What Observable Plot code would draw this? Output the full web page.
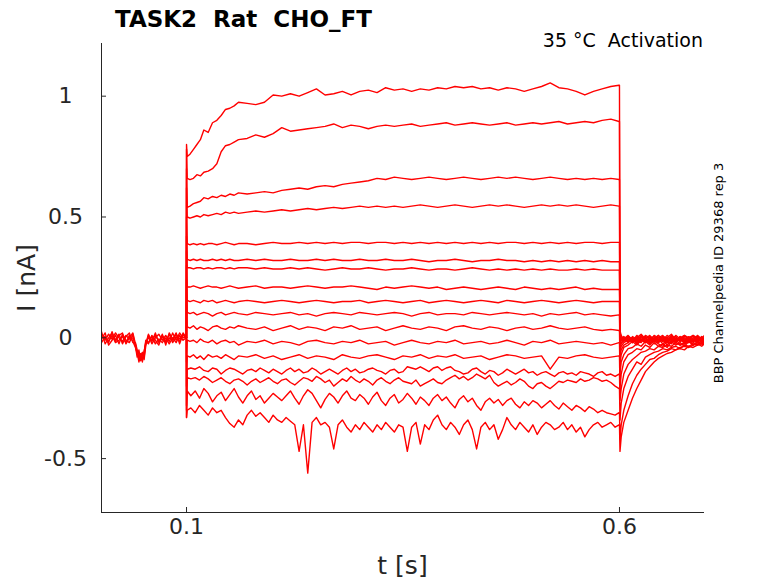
<!DOCTYPE html>
<html>
<head>
<meta charset="utf-8">
<script src="https://cdn.jsdelivr.net/npm/d3@7"></script>
<script src="https://cdn.jsdelivr.net/npm/@observablehq/plot@0.6"></script>
<style>
  html, body { margin: 0; padding: 0; background: #fff; }
  #wrap { position: relative; width: 778px; height: 583px; font-family: "DejaVu Sans", sans-serif; overflow: hidden; }
  #wrap .lbl { position: absolute; white-space: pre; }
  #title { left: 115px; top: 7.5px; font-size: 23px; line-height: 23px; font-weight: bold; color: #000; }
  #cond { right: 75px; top: 31.4px; font-size: 19px; line-height: 19px; color: #000; }
  #xlab { left: 402.5px; top: 553px; font-size: 25px; line-height: 25px; color: #262626; transform: translateX(-50%); }
  #ylab { left: 26.4px; top: 278px; font-size: 25px; line-height: 25px; color: #262626; transform: translate(-50%, -50%) rotate(-90deg); }
  #side { left: 717.5px; top: 272.5px; font-size: 13px; line-height: 13px; color: #000; transform: translate(-50%, -50%) rotate(-90deg); }
</style>
</head>
<body>
<div id="wrap">
  <div id="chart"></div>
  <div class="lbl" id="title">TASK2  Rat  CHO_FT</div>
  <div class="lbl" id="cond">35 °C  Activation</div>
  <div class="lbl" id="xlab">t [s]</div>
  <div class="lbl" id="ylab">I [nA]</div>
  <div class="lbl" id="side">BBP Channelpedia ID 29368 rep 3</div>
</div>
<script>
// ---------- axes ----------
const xDomain = [0.0018, 0.6982];
const yDomain = [-0.723, 1.218];
const xTicks = [0.1, 0.6];
const xTickLabels = ["0.1", "0.6"];
const yTicks = [-0.5, 0, 0.5, 1];
const yTickLabels = ["-0.5", "0", "0.5", "1"];

// ---------- time grids (s) ----------
const tPre = [0.0018, 0.006, 0.01, 0.014, 0.018, 0.022, 0.026, 0.03, 0.034, 0.038,
  0.041, 0.043, 0.045, 0.047, 0.049, 0.051, 0.053, 0.056, 0.06, 0.064,
  0.068, 0.072, 0.076, 0.08, 0.084, 0.088, 0.092, 0.096, 0.0999];
const tCoarse = [0.0999, 0.1, 0.1008, 0.104, 0.108, 0.112, 0.116, 0.12, 0.125, 0.13,
  0.135, 0.14, 0.145, 0.15, 0.155, 0.16, 0.17, 0.18, 0.19, 0.2,
  0.21, 0.22, 0.23, 0.24, 0.25, 0.26, 0.27, 0.28, 0.29, 0.3,
  0.31, 0.32, 0.33, 0.34, 0.35, 0.36, 0.37, 0.38, 0.39, 0.4,
  0.41, 0.42, 0.43, 0.44, 0.45, 0.46, 0.47, 0.48, 0.49, 0.5,
  0.51, 0.52, 0.53, 0.54, 0.55, 0.56, 0.57, 0.58, 0.59, 0.5995];
const tFine = [0.0999, 0.1, 0.1008, 0.105, 0.11, 0.115, 0.12, 0.125, 0.13, 0.135,
  0.14, 0.145, 0.15, 0.155, 0.16, 0.165, 0.17, 0.175, 0.18, 0.185,
  0.19, 0.195, 0.2, 0.205, 0.21, 0.215, 0.22, 0.225, 0.23, 0.235,
  0.24, 0.245, 0.25, 0.255, 0.26, 0.265, 0.27, 0.275, 0.28, 0.285,
  0.29, 0.295, 0.3, 0.305, 0.31, 0.315, 0.32, 0.325, 0.33, 0.335,
  0.34, 0.345, 0.35, 0.355, 0.36, 0.365, 0.37, 0.375, 0.38, 0.385,
  0.39, 0.395, 0.4, 0.405, 0.41, 0.415, 0.42, 0.425, 0.43, 0.435,
  0.44, 0.445, 0.45, 0.455, 0.46, 0.465, 0.47, 0.475, 0.48, 0.485,
  0.49, 0.495, 0.5, 0.505, 0.51, 0.515, 0.52, 0.525, 0.53, 0.535,
  0.54, 0.545, 0.55, 0.555, 0.56, 0.565, 0.57, 0.575, 0.58, 0.585,
  0.59, 0.595, 0.5995];
const tTail = [0.6, 0.6006, 0.602, 0.605, 0.61, 0.615, 0.62, 0.625, 0.63, 0.635,
  0.64, 0.645, 0.65, 0.655, 0.66, 0.665, 0.67, 0.675, 0.68, 0.685,
  0.69, 0.695, 0.6982];

// ---------- baseline before the step (nA) ----------
const pre1 = [0.01, -0.01, 0.015, -0.005, 0.02, 0.0, -0.015, 0.01, -0.005, 0.0,
  -0.03, -0.07, -0.06, -0.09, -0.07, -0.08, -0.02, 0.0, -0.01, 0.01,
  -0.015, 0.005, -0.02, 0.0, -0.01, 0.015, -0.005, 0.01, 0.0];
const pre2 = [-0.02, 0.005, -0.015, 0.01, -0.02, -0.01, 0.005, -0.02, 0.01, -0.015,
  -0.04, -0.06, -0.08, -0.065, -0.1, -0.06, -0.01, -0.02, 0.005, -0.025,
  -0.005, -0.02, 0.0, -0.025, 0.0, -0.02, 0.01, -0.01, 0.0];
const pre3 = [0.025, -0.025, 0.0, 0.02, -0.01, 0.015, -0.025, 0.005, 0.02, -0.02,
  -0.02, -0.05, -0.09, -0.075, -0.06, -0.09, -0.03, 0.01, -0.025, 0.0,
  0.015, -0.01, 0.01, -0.015, 0.02, -0.01, 0.02, 0.0, 0.0];
const pre4 = [-0.005, 0.02, -0.03, -0.01, 0.01, -0.025, 0.015, -0.01, -0.02, 0.015,
  -0.035, -0.08, -0.05, -0.095, -0.085, -0.07, -0.015, -0.025, 0.01, -0.01,
  -0.03, 0.01, -0.015, 0.015, -0.02, 0.005, -0.015, 0.02, 0.0];
const pre5 = [0.015, 0.0, -0.02, 0.025, -0.015, 0.01, 0.02, -0.025, 0.0, 0.02,
  -0.025, -0.06, -0.1, -0.07, -0.09, -0.055, -0.025, 0.015, -0.015, 0.02,
  -0.02, 0.015, -0.03, 0.02, -0.005, 0.02, -0.025, 0.015, 0.0];

// ---------- step currents, coarse grid (nA) ----------
const stepA = [0, 0.80, 0.75, 0.76, 0.78, 0.80, 0.82, 0.86, 0.85, 0.89,
  0.90, 0.92, 0.945, 0.95, 0.96, 0.975, 0.97, 0.965, 0.975, 1.005,
  1.0, 1.01, 1.0, 1.015, 1.03, 1.005, 1.01, 1.02, 1.005, 1.02,
  1.025, 1.015, 1.035, 1.025, 1.03, 1.02, 1.03, 1.025, 1.035, 1.03,
  1.04, 1.035, 1.04, 1.03, 1.035, 1.025, 1.035, 1.03, 1.02, 1.03,
  1.04, 1.055, 1.035, 1.03, 1.02, 1.005, 1.02, 1.03, 1.04, 1.045];
const stepB = [0, 0.78, 0.66, 0.655, 0.66, 0.675, 0.67, 0.685, 0.69, 0.70,
  0.72, 0.77, 0.795, 0.80, 0.81, 0.82, 0.825, 0.84, 0.83, 0.845,
  0.87, 0.855, 0.86, 0.865, 0.87, 0.875, 0.885, 0.87, 0.88, 0.875,
  0.865, 0.875, 0.88, 0.875, 0.88, 0.885, 0.875, 0.88, 0.885, 0.89,
  0.88, 0.885, 0.89, 0.885, 0.88, 0.885, 0.89, 0.88, 0.885, 0.89,
  0.885, 0.89, 0.895, 0.885, 0.89, 0.895, 0.89, 0.90, 0.905, 0.895];
const stepC = [0, 0.70, 0.54, 0.545, 0.555, 0.56, 0.565, 0.58, 0.575, 0.585,
  0.58, 0.59, 0.585, 0.595, 0.59, 0.60, 0.595, 0.60, 0.605, 0.60,
  0.61, 0.615, 0.62, 0.615, 0.625, 0.63, 0.625, 0.635, 0.64, 0.645,
  0.65, 0.66, 0.655, 0.665, 0.66, 0.655, 0.66, 0.665, 0.66, 0.655,
  0.66, 0.665, 0.66, 0.655, 0.66, 0.665, 0.66, 0.665, 0.66, 0.655,
  0.66, 0.665, 0.66, 0.655, 0.66, 0.655, 0.66, 0.655, 0.66, 0.655];
const stepD = [0, 0.62, 0.50, 0.495, 0.50, 0.505, 0.50, 0.51, 0.505, 0.51,
  0.515, 0.51, 0.52, 0.515, 0.52, 0.515, 0.52, 0.525, 0.52, 0.525,
  0.53, 0.525, 0.53, 0.535, 0.53, 0.535, 0.54, 0.535, 0.54, 0.545,
  0.54, 0.545, 0.54, 0.545, 0.54, 0.545, 0.55, 0.545, 0.54, 0.545,
  0.55, 0.545, 0.54, 0.545, 0.55, 0.545, 0.55, 0.545, 0.54, 0.545,
  0.55, 0.545, 0.55, 0.545, 0.55, 0.545, 0.54, 0.545, 0.55, 0.545];
const stepE = [0, 0.50, 0.39, 0.385, 0.39, 0.385, 0.39, 0.385, 0.39, 0.39,
  0.385, 0.39, 0.395, 0.39, 0.385, 0.39, 0.39, 0.385, 0.39, 0.395,
  0.39, 0.39, 0.395, 0.39, 0.395, 0.39, 0.395, 0.39, 0.395, 0.395,
  0.39, 0.395, 0.395, 0.39, 0.395, 0.39, 0.395, 0.39, 0.395, 0.39,
  0.395, 0.39, 0.395, 0.39, 0.395, 0.39, 0.395, 0.395, 0.39, 0.395,
  0.39, 0.395, 0.39, 0.395, 0.39, 0.395, 0.395, 0.39, 0.395, 0.395];
const stepF = [0, 0.42, 0.325, 0.32, 0.325, 0.32, 0.325, 0.32, 0.32, 0.325,
  0.32, 0.325, 0.32, 0.325, 0.32, 0.32, 0.325, 0.32, 0.325, 0.32,
  0.32, 0.325, 0.32, 0.32, 0.325, 0.32, 0.325, 0.32, 0.32, 0.325,
  0.32, 0.32, 0.325, 0.32, 0.32, 0.325, 0.32, 0.315, 0.32, 0.32,
  0.325, 0.32, 0.315, 0.32, 0.32, 0.325, 0.32, 0.32, 0.315, 0.32,
  0.315, 0.32, 0.315, 0.32, 0.315, 0.32, 0.315, 0.32, 0.315, 0.315];
const stepG = [0, 0.36, 0.29, 0.29, 0.285, 0.29, 0.29, 0.285, 0.29, 0.285,
  0.29, 0.29, 0.285, 0.29, 0.285, 0.29, 0.29, 0.285, 0.29, 0.285,
  0.285, 0.29, 0.285, 0.29, 0.285, 0.28, 0.285, 0.29, 0.285, 0.285,
  0.29, 0.285, 0.28, 0.285, 0.285, 0.29, 0.285, 0.28, 0.285, 0.285,
  0.28, 0.285, 0.29, 0.285, 0.28, 0.285, 0.28, 0.285, 0.28, 0.285,
  0.28, 0.285, 0.28, 0.28, 0.285, 0.28, 0.285, 0.28, 0.28, 0.28];
const stepH = [0, 0.30, 0.21, 0.21, 0.215, 0.21, 0.205, 0.21, 0.215, 0.21,
  0.21, 0.205, 0.21, 0.215, 0.21, 0.205, 0.21, 0.215, 0.205, 0.21,
  0.21, 0.205, 0.21, 0.215, 0.21, 0.205, 0.21, 0.21, 0.215, 0.21,
  0.205, 0.20, 0.21, 0.205, 0.21, 0.215, 0.21, 0.205, 0.21, 0.20,
  0.205, 0.21, 0.205, 0.20, 0.205, 0.21, 0.205, 0.20, 0.21, 0.205,
  0.20, 0.205, 0.20, 0.205, 0.21, 0.20, 0.205, 0.20, 0.20, 0.20];
const stepI = [0, 0.24, 0.155, 0.15, 0.155, 0.15, 0.145, 0.155, 0.15, 0.155,
  0.145, 0.15, 0.155, 0.15, 0.145, 0.15, 0.155, 0.15, 0.145, 0.15,
  0.155, 0.15, 0.145, 0.15, 0.155, 0.15, 0.145, 0.15, 0.15, 0.155,
  0.145, 0.15, 0.155, 0.15, 0.145, 0.15, 0.155, 0.145, 0.15, 0.155,
  0.15, 0.145, 0.15, 0.155, 0.15, 0.145, 0.155, 0.15, 0.145, 0.15,
  0.155, 0.15, 0.145, 0.15, 0.155, 0.15, 0.145, 0.15, 0.15, 0.15];
const stepJ = [0, 0.20, 0.105, 0.10, 0.105, 0.095, 0.10, 0.105, 0.10, 0.09,
  0.10, 0.105, 0.095, 0.10, 0.105, 0.10, 0.095, 0.105, 0.10, 0.095,
  0.10, 0.105, 0.095, 0.10, 0.09, 0.10, 0.105, 0.10, 0.095, 0.105,
  0.10, 0.095, 0.10, 0.105, 0.10, 0.09, 0.10, 0.105, 0.095, 0.10,
  0.10, 0.095, 0.105, 0.10, 0.095, 0.10, 0.105, 0.10, 0.095, 0.10,
  0.09, 0.10, 0.095, 0.10, 0.105, 0.095, 0.10, 0.095, 0.09, 0.095];
const stepK = [0, 0.15, 0.045, 0.04, 0.05, 0.035, 0.045, 0.04, 0.03, 0.045,
  0.05, 0.04, 0.035, 0.045, 0.04, 0.05, 0.04, 0.035, 0.045, 0.03,
  0.04, 0.05, 0.035, 0.045, 0.04, 0.03, 0.045, 0.04, 0.05, 0.035,
  0.04, 0.045, 0.03, 0.04, 0.05, 0.04, 0.035, 0.045, 0.04, 0.03,
  0.045, 0.05, 0.04, 0.035, 0.045, 0.04, 0.03, 0.04, 0.045, 0.035,
  0.04, 0.05, 0.04, 0.035, 0.04, 0.045, 0.035, 0.03, 0.035, 0.03];
const stepL = [0, -0.10, -0.01, -0.015, -0.01, -0.02, -0.005, -0.015, -0.02, -0.01,
  -0.025, -0.015, -0.01, -0.02, -0.015, -0.03, -0.015, -0.02, -0.01, -0.025,
  -0.015, -0.02, -0.03, -0.015, -0.01, -0.02, -0.025, -0.015, -0.02, -0.01,
  -0.025, -0.02, -0.015, -0.03, -0.02, -0.01, -0.02, -0.025, -0.015, -0.02,
  -0.01, -0.025, -0.02, -0.015, -0.025, -0.02, -0.01, -0.02, -0.03, -0.015,
  -0.02, -0.01, -0.025, -0.02, -0.015, -0.02, -0.025, -0.02, -0.03, -0.02];
const stepM = [0, -0.20, -0.075, -0.08, -0.07, -0.085, -0.075, -0.09, -0.07, -0.08,
  -0.075, -0.085, -0.07, -0.08, -0.09, -0.075, -0.08, -0.07, -0.085, -0.075,
  -0.09, -0.08, -0.07, -0.085, -0.075, -0.08, -0.09, -0.07, -0.08, -0.085,
  -0.075, -0.07, -0.08, -0.09, -0.075, -0.08, -0.07, -0.085, -0.075, -0.08,
  -0.07, -0.085, -0.08, -0.075, -0.09, -0.08, -0.07, -0.075, -0.085, -0.08,
  -0.075, -0.13, -0.08, -0.085, -0.075, -0.07, -0.08, -0.085, -0.08, -0.075];

// ---------- step currents, fine grid (nA) ----------
const stepN = [0, -0.28, -0.13, -0.125, -0.13, -0.12, -0.135, -0.14, -0.125, -0.13,
  -0.15, -0.135, -0.125, -0.13, -0.14, -0.15, -0.135, -0.13, -0.14, -0.125,
  -0.135, -0.145, -0.13, -0.14, -0.15, -0.135, -0.125, -0.14, -0.13, -0.145,
  -0.14, -0.125, -0.135, -0.15, -0.14, -0.13, -0.14, -0.15, -0.135, -0.125,
  -0.14, -0.13, -0.145, -0.14, -0.13, -0.125, -0.135, -0.14, -0.15, -0.135,
  -0.13, -0.145, -0.14, -0.12, -0.125, -0.13, -0.12, -0.13, -0.14, -0.125,
  -0.12, -0.135, -0.125, -0.12, -0.135, -0.14, -0.15, -0.145, -0.13, -0.125,
  -0.14, -0.15, -0.135, -0.14, -0.155, -0.145, -0.13, -0.14, -0.15, -0.14,
  -0.13, -0.145, -0.14, -0.155, -0.145, -0.14, -0.15, -0.16, -0.145, -0.14,
  -0.15, -0.145, -0.155, -0.14, -0.145, -0.15, -0.16, -0.145, -0.14, -0.155,
  -0.15, -0.16, -0.15];
const stepO = [0, -0.30, -0.165, -0.17, -0.165, -0.175, -0.16, -0.17, -0.185, -0.175,
  -0.165, -0.18, -0.19, -0.175, -0.17, -0.18, -0.195, -0.18, -0.17, -0.185,
  -0.175, -0.165, -0.18, -0.19, -0.175, -0.17, -0.185, -0.195, -0.18, -0.165,
  -0.17, -0.18, -0.16, -0.17, -0.185, -0.175, -0.20, -0.185, -0.17, -0.18,
  -0.16, -0.175, -0.185, -0.17, -0.18, -0.195, -0.175, -0.165, -0.18, -0.19,
  -0.175, -0.165, -0.18, -0.185, -0.19, -0.175, -0.20, -0.19, -0.18, -0.17,
  -0.185, -0.19, -0.175, -0.165, -0.155, -0.17, -0.16, -0.175, -0.165, -0.15,
  -0.16, -0.17, -0.155, -0.185, -0.20, -0.19, -0.18, -0.195, -0.185, -0.17,
  -0.18, -0.20, -0.21, -0.19, -0.185, -0.20, -0.21, -0.195, -0.18, -0.185,
  -0.175, -0.18, -0.185, -0.17, -0.18, -0.175, -0.165, -0.17, -0.18, -0.175,
  -0.185, -0.20, -0.21];
const stepP = [0, -0.33, -0.22, -0.24, -0.22, -0.25, -0.21, -0.23, -0.265, -0.24,
  -0.225, -0.26, -0.235, -0.21, -0.245, -0.27, -0.24, -0.22, -0.255, -0.24,
  -0.27, -0.25, -0.23, -0.245, -0.26, -0.24, -0.22, -0.25, -0.275, -0.24,
  -0.215, -0.23, -0.26, -0.29, -0.255, -0.23, -0.245, -0.27, -0.24, -0.22,
  -0.25, -0.26, -0.235, -0.25, -0.275, -0.245, -0.225, -0.26, -0.28, -0.25,
  -0.235, -0.27, -0.255, -0.23, -0.25, -0.275, -0.245, -0.26, -0.28, -0.25,
  -0.235, -0.26, -0.245, -0.27, -0.29, -0.255, -0.24, -0.265, -0.25, -0.28,
  -0.30, -0.265, -0.25, -0.27, -0.255, -0.28, -0.26, -0.25, -0.275, -0.29,
  -0.265, -0.28, -0.26, -0.27, -0.29, -0.275, -0.26, -0.28, -0.295, -0.27,
  -0.285, -0.30, -0.28, -0.29, -0.305, -0.285, -0.295, -0.31, -0.30, -0.31,
  -0.315, -0.32, -0.31];
const stepQ = [0, -0.33, -0.30, -0.29, -0.31, -0.28, -0.30, -0.32, -0.29, -0.31,
  -0.30, -0.33, -0.355, -0.37, -0.34, -0.36, -0.32, -0.30, -0.325, -0.31,
  -0.33, -0.35, -0.32, -0.34, -0.35, -0.33, -0.345, -0.36, -0.47, -0.36,
  -0.56, -0.35, -0.33, -0.36, -0.35, -0.37, -0.46, -0.36, -0.34, -0.37,
  -0.39, -0.36, -0.38, -0.35, -0.37, -0.39, -0.36, -0.38, -0.35, -0.37,
  -0.39, -0.36, -0.37, -0.47, -0.37, -0.35, -0.44, -0.36, -0.38, -0.34,
  -0.32, -0.36, -0.38, -0.35, -0.37, -0.40, -0.36, -0.34, -0.38, -0.46,
  -0.37, -0.35, -0.38, -0.36, -0.42, -0.38, -0.33, -0.36, -0.38, -0.35,
  -0.37, -0.39, -0.36, -0.40, -0.37, -0.35, -0.36, -0.38, -0.37, -0.35,
  -0.38, -0.36, -0.39, -0.37, -0.41, -0.38, -0.36, -0.35, -0.37, -0.36,
  -0.35, -0.37, -0.36];

// ---------- tails after the step (nA) ----------
const tailA = [1.045, 0.03, 0.01, -0.01, 0.005, -0.015, 0.01, -0.005, -0.02, 0.005,
  -0.01, 0.01, -0.015, 0.0, 0.015, -0.01, 0.005, -0.02, 0.0, 0.01, -0.01, 0.005, -0.005];
const tailB = [0.895, 0.02, 0.005, -0.005, 0.01, -0.01, 0.0, 0.015, -0.005, -0.015,
  0.01, 0.0, -0.01, 0.01, -0.005, 0.005, -0.015, 0.01, 0.0, -0.01, 0.01, -0.005, 0.0];
const tailC = [0.655, 0.01, -0.01, 0.0, -0.02, 0.005, -0.005, -0.01, 0.01, 0.0,
  -0.015, 0.0, 0.01, -0.01, 0.0, -0.02, 0.005, -0.005, -0.01, 0.01, 0.0, -0.015, 0.0];
const tailD = [0.545, 0.0, -0.005, 0.005, -0.01, 0.0, -0.02, 0.005, -0.005, 0.01,
  -0.01, -0.015, 0.005, 0.0, -0.01, 0.01, -0.005, -0.02, 0.0, 0.005, -0.01, 0.0, 0.01];
const tailE = [0.395, -0.01, 0.0, -0.015, 0.005, -0.005, -0.01, 0.01, -0.015, 0.0,
  0.005, -0.01, 0.0, -0.02, 0.01, -0.005, -0.01, 0.005, 0.0, -0.015, 0.005, -0.01, -0.005];
const tailF = [0.315, -0.02, -0.01, 0.0, -0.005, -0.02, 0.005, -0.01, 0.0, -0.015,
  -0.005, 0.01, -0.01, 0.0, -0.005, -0.02, 0.0, 0.01, -0.01, -0.005, -0.015, 0.0, -0.01];
const tailG = [0.28, -0.03, -0.02, -0.005, -0.015, 0.0, -0.01, -0.02, 0.005, -0.005,
  -0.015, -0.01, 0.005, -0.02, -0.005, 0.0, -0.015, -0.01, 0.005, -0.005, -0.02, -0.005, 0.0];
const tailH = [0.20, -0.04, -0.025, -0.01, 0.0, -0.02, -0.005, 0.005, -0.015, -0.01,
  0.0, -0.02, -0.005, -0.01, 0.005, -0.015, 0.0, -0.01, -0.02, 0.0, -0.005, -0.015, -0.01];
const tailI = [0.15, -0.06, -0.035, -0.02, -0.01, 0.0, -0.02, -0.005, -0.01, -0.025,
  0.0, -0.01, -0.015, 0.0, -0.02, -0.005, -0.01, 0.0, -0.02, -0.01, 0.0, -0.015, -0.005];
const tailJ = [0.095, -0.08, -0.05, -0.03, -0.02, -0.005, -0.025, -0.01, 0.0, -0.02,
  -0.01, -0.005, -0.025, -0.01, 0.0, -0.02, -0.005, -0.015, 0.0, -0.02, -0.01, -0.005, -0.02];
const tailK = [0.03, -0.11, -0.07, -0.04, -0.03, -0.015, -0.03, -0.01, -0.02, -0.005,
  -0.025, -0.015, -0.005, -0.03, -0.01, -0.02, 0.0, -0.025, -0.01, -0.015, 0.0, -0.02, -0.01];
const tailL = [-0.02, -0.15, -0.10, -0.07, -0.045, -0.04, -0.025, -0.035, -0.015, -0.03,
  -0.01, -0.025, -0.035, -0.015, -0.025, -0.005, -0.03, -0.02, -0.01, -0.03, -0.015, -0.025, -0.01];
const tailM = [-0.075, -0.21, -0.15, -0.10, -0.07, -0.06, -0.045, -0.05, -0.03, -0.04,
  -0.02, -0.035, -0.025, -0.04, -0.015, -0.03, -0.02, -0.035, -0.015, -0.025, -0.03, -0.01, -0.02];
const tailN = [-0.15, -0.26, -0.21, -0.15, -0.11, -0.09, -0.075, -0.06, -0.055, -0.045,
  -0.05, -0.035, -0.04, -0.03, -0.035, -0.02, -0.03, -0.025, -0.015, -0.03, -0.02, -0.025, -0.015];
const tailO = [-0.21, -0.34, -0.27, -0.21, -0.16, -0.13, -0.10, -0.11, -0.08, -0.07,
  -0.06, -0.055, -0.045, -0.05, -0.04, -0.035, -0.045, -0.03, -0.035, -0.025, -0.03, -0.02, -0.03];
const tailP = [-0.31, -0.42, -0.36, -0.30, -0.24, -0.19, -0.155, -0.13, -0.11, -0.09,
  -0.085, -0.07, -0.06, -0.055, -0.045, -0.05, -0.04, -0.035, -0.04, -0.03, -0.025, -0.035, -0.02];
const tailQ = [-0.36, -0.47, -0.41, -0.35, -0.30, -0.25, -0.21, -0.175, -0.14, -0.12,
  -0.10, -0.085, -0.075, -0.065, -0.06, -0.05, -0.045, -0.05, -0.035, -0.04, -0.03, -0.025, -0.03];

// ---------- assemble table ----------
const sweeps = [
  ["A", tCoarse, stepA, tailA], ["B", tCoarse, stepB, tailB], ["C", tCoarse, stepC, tailC],
  ["D", tCoarse, stepD, tailD], ["E", tCoarse, stepE, tailE], ["F", tCoarse, stepF, tailF],
  ["G", tCoarse, stepG, tailG], ["H", tCoarse, stepH, tailH], ["I", tCoarse, stepI, tailI],
  ["J", tCoarse, stepJ, tailJ], ["K", tCoarse, stepK, tailK], ["L", tCoarse, stepL, tailL],
  ["M", tCoarse, stepM, tailM], ["N", tFine, stepN, tailN], ["O", tFine, stepO, tailO],
  ["P", tFine, stepP, tailP], ["Q", tFine, stepQ, tailQ]
];
const rows = [];
[pre1, pre2, pre3, pre4, pre5].forEach((vals, k) => {
  tPre.forEach((t, j) => rows.push({trace: "pre" + k, t, i: vals[j]}));
});
for (const [name, grid, step, tail] of sweeps) {
  if (grid.length !== step.length || tail.length !== tTail.length) console.warn("length mismatch", name, grid.length, step.length, tail.length);
  grid.forEach((t, j) => rows.push({trace: name, t, i: step[j]}));
  tTail.forEach((t, j) => rows.push({trace: name, t, i: tail[j]}));
}

const W = 778, H = 583, ML = 101, MR = 74, MT = 43, MB = 71;
const frameW = W - ML - MR, frameH = H - MT - MB;
const yTickRows = yTicks.map((v, k) => ({v, label: yTickLabels[k]}));
const xTickRows = xTicks.map((v, k) => ({v, label: xTickLabels[k]}));
const axisColor = "#262626";

const chart = Plot.plot({
  width: W, height: H,
  marginLeft: ML, marginRight: MR, marginTop: MT, marginBottom: MB,
  x: {domain: xDomain, axis: null},
  y: {domain: yDomain, axis: null},
  style: {fontFamily: "'DejaVu Sans', sans-serif", background: "#fff", overflow: "visible"},
  marks: [
    Plot.line(rows, {x: "t", y: "i", z: "trace", stroke: "#ff0000", strokeWidth: 1.4, clip: true}),
    Plot.ruleX([xDomain[0]], {stroke: axisColor, strokeWidth: 1}),
    Plot.ruleY([yDomain[0]], {stroke: axisColor, strokeWidth: 1}),
    Plot.tickY(yTicks, {y: d => d, insetRight: frameW - 5, stroke: axisColor}),
    Plot.tickX(xTicks, {x: d => d, insetTop: frameH - 5, stroke: axisColor}),
    Plot.text(yTickRows, {y: "v", text: "label", frameAnchor: "left", dx: -36, textAnchor: "middle", fontSize: 22, fill: axisColor}),
    Plot.text(xTickRows, {x: "v", text: "label", frameAnchor: "bottom", dy: 21, textAnchor: "middle", fontSize: 22, fill: axisColor})
  ]
});
document.getElementById("chart").appendChild(chart);
</script>
</body>
</html>
